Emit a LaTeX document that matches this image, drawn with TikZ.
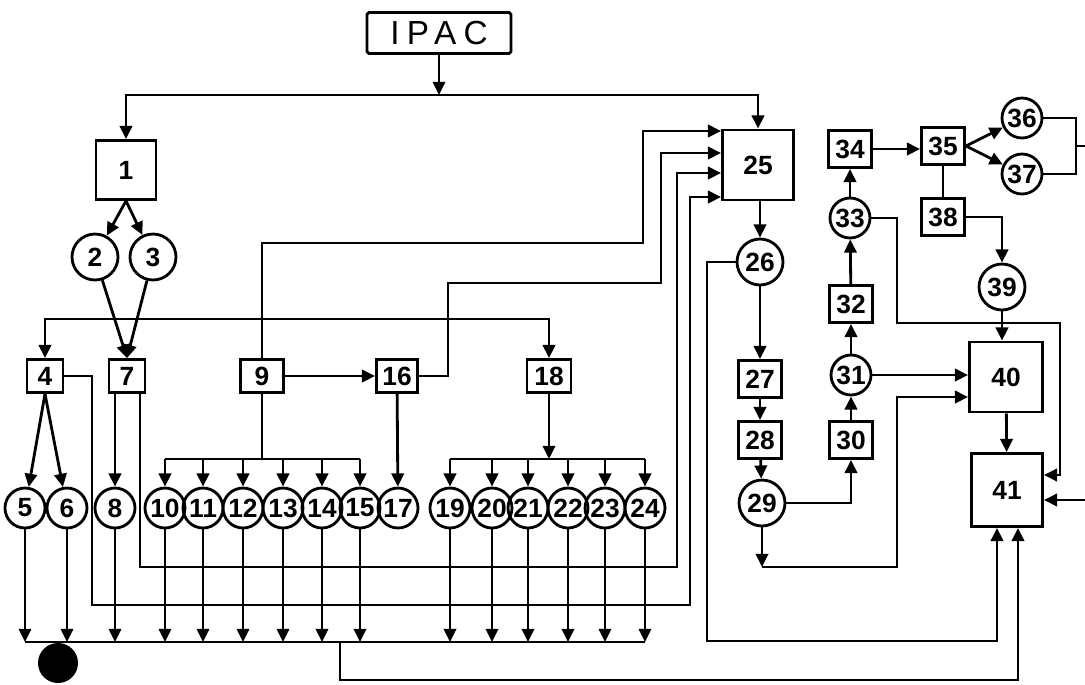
\documentclass[tikz,border=0pt]{standalone}
\usepackage{fontspec}
\setmainfont{Liberation Sans}
\newfontfamily\ipacfont[LetterSpace=22]{Liberation Sans}
\usetikzlibrary{arrows.meta,calc}

\begin{document}
\begin{tikzpicture}[x=0.02cm,y=-0.02cm,>={Triangle[length=7.5pt,width=7pt]},
  line width=1.6pt,font=\fontsize{15}{15}\selectfont\bfseries,
  sbox/.style={draw,inner sep=0pt,minimum width=.72cm,minimum height=.66cm},
  wbox/.style={draw,inner sep=0pt,minimum width=.86cm,minimum height=.74cm},
  bbox/.style={draw,inner sep=0pt,minimum width=1.42cm,minimum height=1.4cm},
  crc/.style={circle,draw,inner sep=0pt,minimum size=.8cm},
  bcrc/.style={circle,draw,inner sep=0pt,minimum size=.92cm}]
\useasboundingbox (0,0) rectangle (1085,684);

% Bloques de la izquierda
\node[draw,inner sep=0pt,minimum width=2.88cm,minimum height=.82cm,rounded corners=1pt,
  font=\ipacfont\fontsize{19}{19}\selectfont] (ipac) at (439,33) {IPAC};
\node[draw,inner sep=0pt,minimum width=1.2cm,minimum height=1.18cm] (n1) at (126,170) {1};
\node[bcrc] (n2) at (95,257) {2};
\node[bcrc] (n3) at (153,257) {3};
\node[sbox] (n4) at (45,376) {4};
\node[sbox] (n7) at (127,376) {7};
\node[sbox,minimum width=.86cm] (n9) at (262,376) {9};
\node[sbox,minimum width=.82cm] (n16) at (397,376) {16};
\node[sbox,minimum width=.88cm] (n18) at (549,376) {18};
\foreach \n/\x in {5/25,6/67,8/115,10/165,11/203,12/243,13/283,14/322,15/360,17/398,
  19/450,20/492,21/528,22/568,23/605,24/645}
  \node[crc] (n\n) at (\x,508) {\n};
\node[circle,fill,inner sep=0pt,minimum size=.8cm] (sink) at (58,663) {};

% Bloques de la derecha
\node[bbox] (n25) at (758,165) {25};
\node[bcrc] (n26) at (760,262) {26};
\node[wbox] (n27) at (760,379) {27};
\node[wbox] (n28) at (760,440) {28};
\node[bcrc] (n29) at (762,503) {29};
\node[wbox] (n30) at (851,440) {30};
\node[crc] (n31) at (851,375) {31};
\node[wbox] (n32) at (851,304) {32};
\node[crc] (n33) at (850,218) {33};
\node[wbox] (n34) at (850,149) {34};
\node[wbox] (n35) at (943,146) {35};
\node[crc] (n36) at (1022,118) {36};
\node[crc] (n37) at (1022,174) {37};
\node[wbox] (n38) at (943,217) {38};
\node[bcrc] (n39) at (1002,287) {39};
\node[bbox,minimum width=1.46cm] (n40) at (1006,377) {40};
\node[bbox,minimum height=1.46cm] (n41) at (1007,490) {41};

% Entrada y reparto superior
\coordinate (top) at (439,95);
\draw[->] (ipac) -- (top);
\draw[->] (top) -| (n1.north);
\draw[->] (top) -| (n25.north);
\draw[->] (n1.south) -- (n2);
\draw[->] (n1.south) -- (n3);
\draw[->] (n2) -- (n7.north);
\draw[->] (n3) -- (n7.north);
\coordinate (j9) at (262,319);
\draw[->] (j9) -| (n4.north);
\draw[->] (j9) -| (n18.north);

% Hacia el bloque 25
\draw[->] (n9.north) |- (643,243) |- (n25.west |- 0,131);
\draw[->] (n16.east) -| (448,283) -| (661,153) -- (n25.west |- 0,153);
\draw[->] (n7.south -| 140,0) |- (677,567) |- (n25.west |- 0,173);
\draw[->] (n4.east) -| (92,605) -| (690,197) -- (n25.west |- 0,197);

% Ramas inferiores
\draw[->] (n4.south) -- (n5);
\draw[->] (n4.south) -- (n6);
\draw[->] (n7.south -| n8) -- (n8);
\draw[->] (n9) -- (n16);
\draw[->] (n16) -- (n17);
\coordinate (b9) at (262,459);
\draw (n9.south) -- (b9);
\draw (n10 |- b9) -- (n15 |- b9);
\foreach \i in {10,...,15} \draw[->] (n\i |- b9) -- (n\i);
\coordinate (b18) at (549,459);
\draw[->] (n18) -- (b18);
\draw (n19 |- b18) -- (n24 |- b18);
\foreach \i in {19,...,24} \draw[->] (n\i |- b18) -- (n\i);

% Colector
\coordinate (col) at (0,642);
\foreach \i in {5,6,8,10,11,12,13,14,15,19,20,21,22,23,24}
  \draw[->] (n\i) -- (n\i |- col);
\draw (n5 |- col) -- (n24 |- col);
\coordinate (ret) at (340,642);
\draw[->] (ret) |- (1018,680) -- (n41.south -| 1018,0);

% Cadena derecha
\draw[->] (n25.south -| n26) -- (n26);
\draw[->] (n26) -- (n27);
\draw[->] (n27) -- (n28);
\draw[->] (n28) -- (n29);
\draw[->] (n26.west) -| (707,641) -| (n41.south -| 997,0);
\coordinate (c29) at (762,567);
\draw[->] (n29) -- (c29);
\draw[->] (c29) -| (897,397) -- (n40.west |- 0,397);
\draw[->] (n29.east) -| (n30.south);
\draw[->] (n30) -- (n31);
\draw[->] (n31) -- (n32);
\draw[->] (n32) -- (n33);
\draw[->] (n33) -- (n34);
\draw[->] (n31.east) -- (n40.west |- n31);
\draw[->] (n34.east) -- (n35.west |- n34);
\draw[->] (n35.east) -- (n36);
\draw[->] (n35.east) -- (n37);
\coordinate (out37) at (1085,146);
\draw (n36.east) -| (1076,146) |- (n37.east);
\draw (1076,146) -- (out37);
\draw (n35) -- (n38);
\draw[->] (n38.east) -| (n39.north);
\draw[->] (n39.south) -- (n40.north -| n39);
\draw[->] (n33.east) -| (897,323) -| (1060,475) -- (n41.east |- 0,475);
\draw[->] (n40) -- (n41);
\coordinate (in41) at (1085,500);
\draw[->] (in41) -- (n41.east |- in41);
\end{tikzpicture}
\end{document}
